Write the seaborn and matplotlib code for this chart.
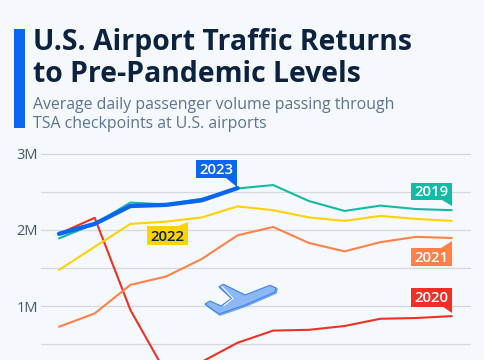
import numpy as np
import pandas as pd
import seaborn as sns
import matplotlib
matplotlib.use('Agg')
import matplotlib.pyplot as plt
from matplotlib.patches import Polygon, Rectangle

months = list(range(12))
y2019 = [1.89, 2.08, 2.36, 2.335, 2.41, 2.545, 2.59, 2.38, 2.25, 2.32, 2.275, 2.26]
y2020 = [1.95, 2.16, 0.95, 0.12, 0.27, 0.52, 0.68, 0.69, 0.74, 0.835, 0.845, 0.87]
y2021 = [0.73, 0.905, 1.28, 1.39, 1.62, 1.93, 2.04, 1.83, 1.72, 1.84, 1.91, 1.895]
y2022 = [1.475, 1.78, 2.08, 2.11, 2.165, 2.31, 2.26, 2.165, 2.12, 2.185, 2.145, 2.12]
y2023 = [1.95, 2.08, 2.315, 2.33, 2.39, 2.55, np.nan, np.nan, np.nan, np.nan, np.nan, np.nan]
y_ticks = [0.5, 1, 1.5, 2, 2.5, 3]
y_labels = ['', '1M', '', '2M', '', '3M']

years = ['2019', '2020', '2021', '2022', '2023']
my_cols = {'2019': '#12BBA5', '2020': '#EE3124', '2021': '#FF8147', '2022': '#FFD200', '2023': '#0A66EE'}
bg = '#F5F8FC'
navy = '#0C2340'

data = pd.DataFrame({'month': months * 5,
                     'year': sum([[y] * 12 for y in years], []),
                     'value': y2019 + y2020 + y2021 + y2022 + y2023})

sns.set_style('white')
plt.rcParams['font.family'] = ['Open Sans', 'DejaVu Sans']

fig = plt.figure(figsize=(4.85, 3.6), dpi=100, facecolor=bg)

# axes run from x=41 to 471 px and y=140 to 360 px, the bottom of the chart is cut off
ax = fig.add_axes([41 / 485, 0, 430 / 485, 220 / 360], facecolor='none')
sns.lineplot(ax=ax, data=data, x='month', y='value', hue='year', hue_order=years, palette=my_cols,
             size='year', sizes={'2019': 1.5, '2020': 1.5, '2021': 1.5, '2022': 1.5, '2023': 3.1},
             legend=False, solid_capstyle='round')
ax.set_xlim((41 - 59) / 35.7, (471 - 59) / 35.7)
ax.set_ylim(2 - 130 / 76.2, 2 + 90 / 76.2)
ax.set_yticks(y_ticks)
ax.set_yticklabels(y_labels, fontsize=10.5, color='#46566E')
ax.set_xticks([])
ax.set_xlabel('')
ax.set_ylabel('')
ax.grid(axis='y', color='#D5D9DE', lw=0.9)
ax.set_axisbelow(True)
ax.tick_params(axis='y', length=0, pad=2)
sns.despine(ax=ax, left=True, bottom=True)

# overlay in pixel coordinates for header, labels and plane
top = fig.add_axes([0, 0, 1, 1], facecolor='none')
top.set_xlim(0, 485)
top.set_ylim(360, 0)
top.axis('off')

top.add_patch(Rectangle((14.5, 29), 11, 99, color='#0A66EE', lw=0))
top.text(33, 50, 'U.S. Airport Traffic Returns', fontsize=20.4, fontweight='bold', color=navy, va='baseline')
top.text(33, 81.5, 'to Pre-Pandemic Levels', fontsize=20.4, fontweight='bold', color=navy, va='baseline')
top.text(33, 109, 'Average daily passenger volume passing through', fontsize=11.4, color='#5C7391', va='baseline')
top.text(33, 128.5, 'TSA checkpoints at U.S. airports', fontsize=11.4, color='#5C7391', va='baseline')


def year_label(text, x0, x1, y0, y1, tail, col, txt_col='white'):
    top.add_patch(Rectangle((x0, y0), x1 - x0, y1 - y0, color=col, lw=0, zorder=5))
    top.add_patch(Polygon(tail, closed=True, color=col, lw=0, zorder=5))
    top.text((x0 + x1) / 2, (y0 + y1) / 2 + 5.2, text, color=txt_col, fontsize=10.8, fontweight='semibold',
             ha='center', va='baseline', zorder=6)


year_label('2023', 196, 237, 160, 178, [(226, 178), (237, 178), (237, 187)], my_cols['2023'])
year_label('2019', 411, 452, 182.5, 200, [(442, 200), (452, 200), (452, 206)], my_cols['2019'])
year_label('2022', 147, 188, 226, 245, [(178, 226), (188, 226), (188, 222)], my_cols['2022'], navy)
year_label('2021', 411, 452, 248, 266, [(441, 248), (452, 248), (452, 241)], my_cols['2021'])
year_label('2020', 411, 452, 288, 306.5, [(442, 306), (452, 306), (452, 312.5)], my_cols['2020'])

# plane
plane = [(276, 288), (270, 285.3), (245, 295), (223.3, 284.3), (219, 286.7), (231.7, 298.3),
         (221, 306), (210, 301), (205, 304), (219, 314), (245, 305), (275, 292)]
shadow = [(x + 1, y + 1) for x, y in plane]
top.add_patch(Polygon(shadow, closed=True, facecolor='#8DB8F5', edgecolor='#6FA3F3', lw=1.2, joinstyle='round', zorder=4))
top.add_patch(Polygon(plane, closed=True, facecolor='#8DB8F5', edgecolor='#3F86EE', lw=0.8, joinstyle='round', zorder=4))
top.plot([222, 233, 224], [286.5, 298.5, 305.5], color='white', lw=0.7, zorder=5)

plt.savefig('out.png', dpi=100, facecolor=bg)
